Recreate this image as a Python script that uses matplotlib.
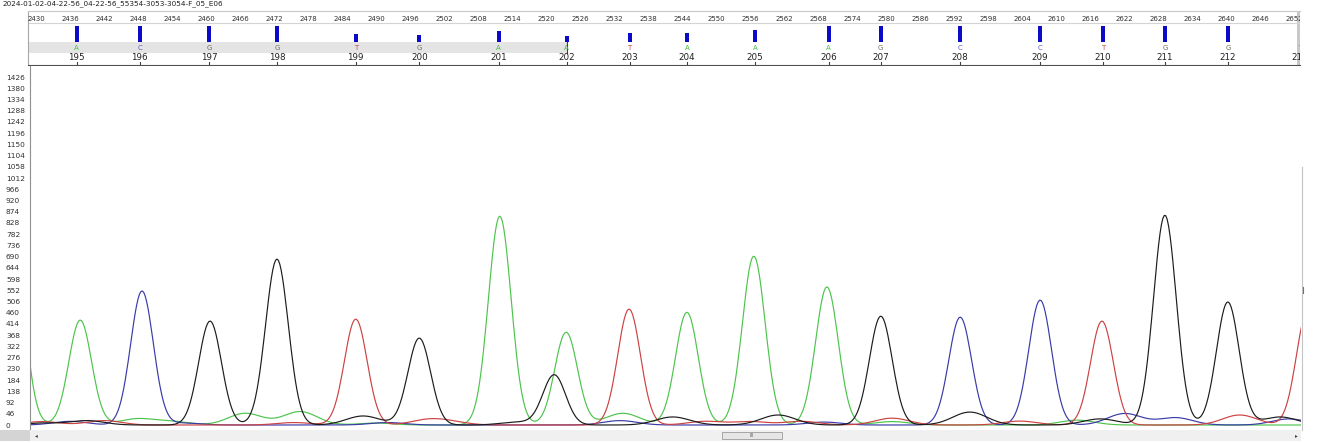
import numpy as np
import matplotlib.pyplot as plt
from matplotlib.patches import Rectangle
from matplotlib.lines import Line2D

# sample name shown above the trace
title = "2024-01-02-04-22-56_04-22-56_55354-3053-3054-F_05_E06"

# base calls: scan position, letter, index, quality bar
base_scan = [2437.2, 2448.3, 2460.5, 2472.5, 2486.4, 2497.6, 2511.6, 2523.6, 2534.7,
             2544.8, 2556.8, 2569.8, 2579.0, 2593.0, 2607.1, 2618.2, 2629.1, 2640.2, 2652.9]
base_call = ["A", "C", "G", "G", "T", "G", "A", "A", "T",
             "A", "A", "A", "G", "C", "C", "T", "G", "G", "T"]
base_index = list(range(195, 214))
base_qv = [60, 60, 60, 60, 30, 26, 41, 22, 34, 34, 45, 60, 60, 60, 60, 60, 60, 60, 60]
clear_end = 2523.6   # end of the grey clear-range band

# trace peaks (scan, signal) per channel
peaks_A = [(2426.0, 740), (2437.8, 430), (2511.8, 856), (2523.5, 380),
           (2544.8, 462), (2556.6, 692), (2569.5, 566)]
peaks_C = [(2448.7, 549), (2593.0, 442), (2607.1, 512)]
peaks_G = [(2460.7, 426), (2472.5, 680), (2497.6, 356), (2521.4, 205),
           (2579.0, 446), (2629.1, 860), (2640.2, 504)]
peaks_T = [(2486.4, 434), (2534.6, 475), (2618.0, 426), (2654.3, 470)]

# small background bumps
bumps_A = [(2447.8, 25), (2454.0, 14), (2466.9, 48), (2476.6, 55), (2490.0, 8),
           (2533.5, 48), (2581.0, 14), (2613.6, 20)]
bumps_C = [(2436.0, 15), (2456.0, 8), (2492.0, 10), (2533.0, 18), (2569.0, 12),
           (2622.0, 47), (2631.0, 30), (2651.0, 25)]
bumps_G = [(2431.0, 8), (2439.0, 18), (2487.7, 37), (2515.0, 12), (2542.3, 33),
           (2560.9, 41), (2594.7, 53), (2617.7, 25), (2649.4, 33)]
bumps_T = [(2431.0, 14), (2442.0, 18), (2475.5, 10), (2499.0, 20), (2503.0, 12),
           (2548.0, 15), (2556.0, 14), (2565.0, 15), (2581.0, 28), (2603.5, 16),
           (2642.3, 41)]

scan_ticks = list(range(2430, 2655, 6))
y_ticks = list(range(0, 1427, 46))

colors = {"A": "#4cc44c", "C": "#3a3aa8", "G": "#1c1c1c", "T": "#cc4242"}
letter_colors = {"A": "#44c044", "C": "#5a5ac0", "G": "#6e6a58", "T": "#c84a4a"}

W, H = 1318, 443


def scan_at(x):
    # pixel column -> scan number (2436 sits at x=70, 5.67 px per scan)
    return 2436 + (x - 70) / 5.67


def fx(x):
    return x / W


def fy(y):
    return 1 - y / H


def trace(xs, peaks, bumps):
    sig = np.zeros_like(xs)
    for c, h in peaks:
        sig += h * np.exp(-(xs - c) ** 2 / (2 * 2.0 ** 2))
    for c, h in bumps:
        sig += h * np.exp(-(xs - c) ** 2 / (2 * 3.0 ** 2))
    return sig


fig = plt.figure(figsize=(W / 100, H / 100), dpi=100)
fig.text(fx(2), fy(4), title, fontsize=5.2, va="center", ha="left", color="#202020")

# ---- header strip with scan numbers and base calls
hx0, hx1, hy0, hy1 = 28, 1300, 11, 65
hax = fig.add_axes([fx(hx0), fy(hy1), fx(hx1 - hx0), (hy1 - hy0) / H])
hax.set_xlim(scan_at(hx0), scan_at(hx1))
hax.set_ylim(hy1, hy0)
hax.set_xticks([])
hax.set_yticks([])
hax.spines["top"].set_color("#c8c8c8")
hax.spines["left"].set_color("#a8a8a8")
hax.spines["bottom"].set_color("#505050")
hax.spines["right"].set_visible(False)

hax.add_patch(Rectangle((scan_at(hx0), 42), clear_end - scan_at(hx0), 11,
                        facecolor="#e4e4e4", edgecolor="none"))
hax.plot([clear_end, clear_end], [42, 53], color="#404040", lw=0.8)
hax.axhline(23, color="#d4d4d4", lw=0.8)

for s in scan_ticks:
    hax.text(s, 18.5, str(s), fontsize=5, ha="center", va="center",
             color="#303030", clip_on=True)

bar_px = [q * 16 / 60 for q in base_qv]
hax.bar(base_scan, [-b for b in bar_px], bottom=42, width=0.72,
        color="#0a0ac8", edgecolor="none")
for s, b, i in zip(base_scan, base_call, base_index):
    hax.text(s, 48, b, fontsize=5, ha="center", va="center",
             color=letter_colors[b], clip_on=True)
    hax.text(s, 58, str(i), fontsize=6.3, ha="center", va="center",
             color="#202020", clip_on=True)
    hax.plot([s, s], [62, 65], color="#404040", lw=0.8)

hax.add_patch(Rectangle((scan_at(1297), hy0), 1.0, hy1 - hy0, facecolor="#c8c8c8",
                        edgecolor="none", clip_on=True))

# ---- main chromatogram
mx0, mx1, my0, my1 = 30, 1301, 66, 429
ax = fig.add_axes([fx(mx0), fy(my1), fx(mx1 - mx0), (my1 - my0) / H])
ax.set_xlim(scan_at(mx0), scan_at(mx1))
ppu = (425 - 77) / 1426.0
ax.set_ylim(-(my1 - 425) / ppu, 1426 + (77 - my0) / ppu)

xs = np.arange(2415, 2665, 0.25)
for name, pk, bp in [("A", peaks_A, bumps_A), ("C", peaks_C, bumps_C),
                     ("T", peaks_T, bumps_T), ("G", peaks_G, bumps_G)]:
    ax.plot(xs, trace(xs, pk, bp), color=colors[name], lw=0.85)

ax.set_xticks([])
ax.set_yticks(y_ticks)
ax.set_yticklabels([str(v) for v in y_ticks], fontsize=5.3, color="#303030",
                   ha="left")
ax.tick_params(axis="y", length=0, pad=(mx0 - 6) * 0.72)
ax.spines["top"].set_visible(False)
ax.spines["right"].set_visible(False)
ax.spines["bottom"].set_visible(False)
ax.spines["left"].set_color("#909090")

# ---- scroll bars
fig.patches.append(Rectangle((fx(0), fy(441)), fx(30), 11 / H, transform=fig.transFigure,
                             facecolor="#d4d4d4", edgecolor="none"))
fig.patches.append(Rectangle((fx(30), fy(441)), fx(1271), 11 / H, transform=fig.transFigure,
                             facecolor="#f0f0f0", edgecolor="none"))
fig.patches.append(Rectangle((fx(722), fy(439)), fx(60), 7 / H, transform=fig.transFigure,
                             facecolor="#e6e6e6", edgecolor="#9a9a9a", lw=0.6))
fig.text(fx(752), fy(435.5), "III", fontsize=3.5, ha="center", va="center", color="#606060")
fig.text(fx(36), fy(435.5), "◂", fontsize=4, ha="center", va="center", color="#404040")
fig.text(fx(1296), fy(435.5), "▸", fontsize=4, ha="center", va="center", color="#404040")
fig.lines.append(Line2D([fx(1302), fx(1302)], [fy(167), fy(430)], transform=fig.transFigure,
                        color="#c4c4c4", lw=0.8))
fig.lines.append(Line2D([fx(1303), fx(1303)], [fy(287), fy(293)], transform=fig.transFigure,
                        color="#707070", lw=0.8))

fig.savefig("out.png", dpi=100)
